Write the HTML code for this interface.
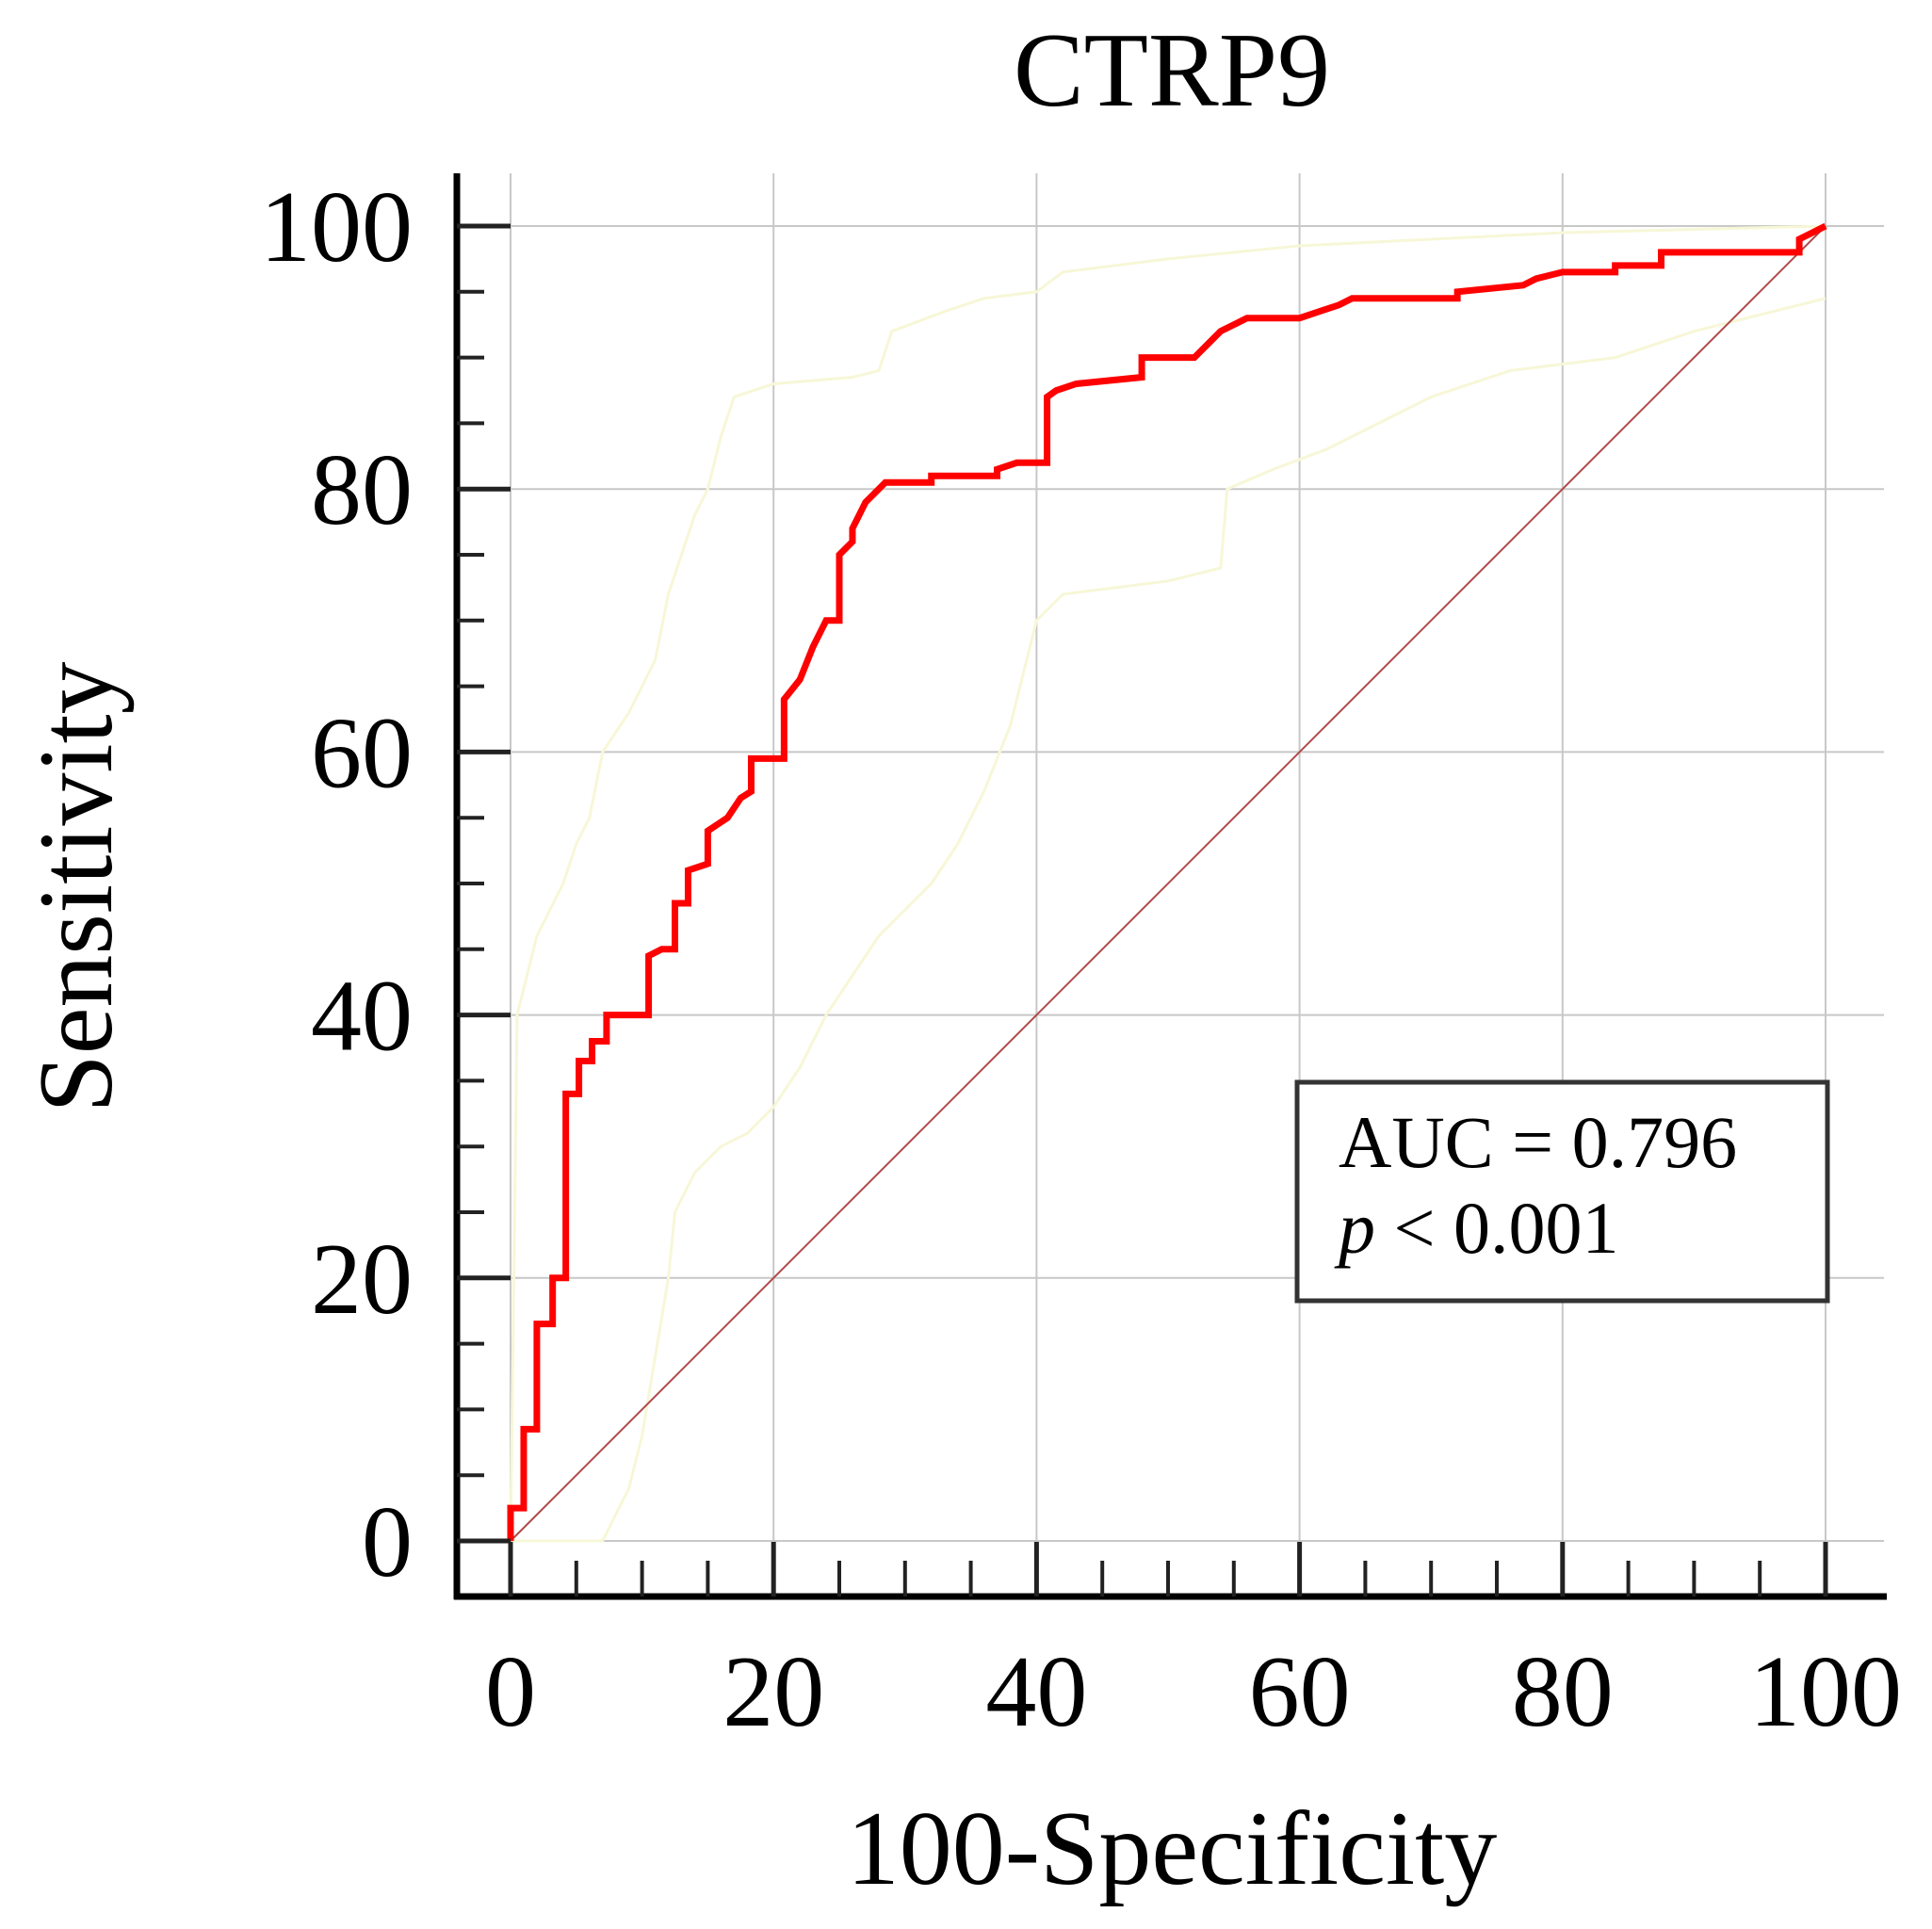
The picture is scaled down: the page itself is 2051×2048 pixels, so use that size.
<!DOCTYPE html>
<html><head><meta charset="utf-8"><style>
html,body{margin:0;padding:0;background:#fff;}
svg{display:block;font-family:"Liberation Serif",serif;}
</style></head><body>
<svg id="chart" width="2051" height="2048" viewBox="0 0 2051 2048">
<text x="1244" y="112" font-size="112" text-anchor="middle">CTRP9</text>
<text x="1244" y="2000" font-size="112" text-anchor="middle">100-Specificity</text>
<text transform="translate(118,942) rotate(-90)" font-size="112" text-anchor="middle">Sensitivity</text>
<g id="grid"></g><g id="bands"></g><g id="diag"></g><g id="curve"></g><g id="axes"></g>
<rect x="1377" y="1149" width="563" height="232" fill="#fff" stroke="#333" stroke-width="5"/>
<text x="1421" y="1239" font-size="78">AUC = 0.796</text>
<text x="1421" y="1330" font-size="78"><tspan font-style="italic">p</tspan> &lt; 0.001</text>
</svg>
<script>
const xTicks=[0,20,40,60,80,100];
const yTicks=[0,20,40,60,80,100];
const rocX=[0,0,1,1,2,2,3.2,3.2,4.2,4.2,5.2,5.2,6.2,6.2,7.3,7.3,10.5,10.5,11.5,12.5,12.5,13.5,13.5,15,15,16.5,17.5,18.3,18.3,20.8,20.8,22,23,24,25,25,26,26,27,28.5,32,32,37,37,38.5,40.8,40.8,41.5,43,48,48,52,53,54,55,56,60,61.5,63,64,72,72,77,78,80,84,84,87.5,87.5,98,98,99,100];
const rocY=[0,2.5,2.5,8.5,8.5,16.5,16.5,20,20,34,34,36.5,36.5,38,38,40,40,44.5,45,45,48.5,48.5,51,51.5,54,55,56.5,57,59.5,59.5,64,65.5,68,70,70,75,76,77,79,80.5,80.5,81,81,81.5,82,82,87,87.5,88,88.5,90,90,91,92,92.5,93,93,93.5,94,94.5,94.5,95,95.5,96,96.5,96.5,97,97,98,98,99,99.5,100];
const upX=[0,0.5,2,4,5,6,7,9,11,12,13,14,15,16,17,20,26,28,29,33,36,40,42,50,60,70,80,100];
const upY=[0,40,46,50,53,55,60,63,67,72,75,78,80,84,87,88,88.5,89,92,93.5,94.5,95,96.5,97.5,98.5,99,99.5,100];
const loX=[0,7,8,9,10,11,12,12.5,14,16,18,20,22,24,26,28,30,32,34,36,38,40,42,50,54,54.5,58,62,66,70,76,84,90,100];
const loY=[0,0,2,4,8,14,20,25,28,30,31,33,36,40,43,46,48,50,53,57,62,70,72,73,74,80,81.5,83,85,87,89,90,92,94.5];
const X0=542,X1=1938,Y0=1636,Y1=240;
const sx=v=>X0+(X1-X0)*v/100, sy=v=>Y0-(Y0-Y1)*v/100;
const NS='http://www.w3.org/2000/svg';
function mk(parent,tag,attrs){const e=document.createElementNS(NS,tag);for(const k in attrs)e.setAttribute(k,attrs[k]);document.getElementById(parent).appendChild(e);return e;}
const AX=485,AB=1695,TOP=184,RIGHT=2000;
xTicks.forEach(v=>{const l=mk('grid','line',{x1:sx(v),x2:sx(v),y1:TOP,y2:AB,stroke:'#c8c8c8','stroke-width':2});

});
yTicks.forEach(v=>{const l=mk('grid','line',{x1:AX,x2:RIGHT,y1:sy(v),y2:sy(v),stroke:'#c8c8c8','stroke-width':2});

});
function pts(xs,ys){return xs.map((x,i)=>sx(x)+','+sy(ys[i])).join(' ');}
const u=mk('bands','polyline',{points:pts(upX,upY),fill:'none',stroke:'#f7f7d8','stroke-width':3});


const lo=mk('bands','polyline',{points:pts(loX,loY),fill:'none',stroke:'#f7f7d8','stroke-width':3});


const d=mk('diag','line',{x1:sx(0),y1:sy(0),x2:sx(100),y2:sy(100),stroke:'#b04a4a','stroke-width':2});


const c=mk('curve','polyline',{points:pts(rocX,rocY),fill:'none',stroke:'#ff0000','stroke-width':7,'stroke-linejoin':'miter'});


const ya=mk('axes','line',{x1:AX,x2:AX,y1:TOP,y2:AB+3,stroke:'#000','stroke-width':7});


const xa=mk('axes','line',{x1:AX-3,x2:RIGHT+3,y1:AB,y2:AB,stroke:'#000','stroke-width':7});


for(let v=0;v<=100;v+=5){const major=v%20===0;
const t=mk('axes','line',{x1:AX,x2:major?sx(0):AX+29,y1:sy(v),y2:sy(v),stroke:'#222','stroke-width':major?5:4});


const t2=mk('axes','line',{x1:sx(v),x2:sx(v),y1:AB,y2:major?AB-58:AB-38,stroke:'#222','stroke-width':major?5:4});

}
xTicks.forEach(v=>{const t=mk('axes','text',{x:sx(v),y:1832,'font-size':108,'text-anchor':'middle'});t.textContent=v;

});
yTicks.forEach(v=>{const t=mk('axes','text',{x:438,y:sy(v)+37,'font-size':108,'text-anchor':'end'});t.textContent=v;

});
</script>
</body></html>
